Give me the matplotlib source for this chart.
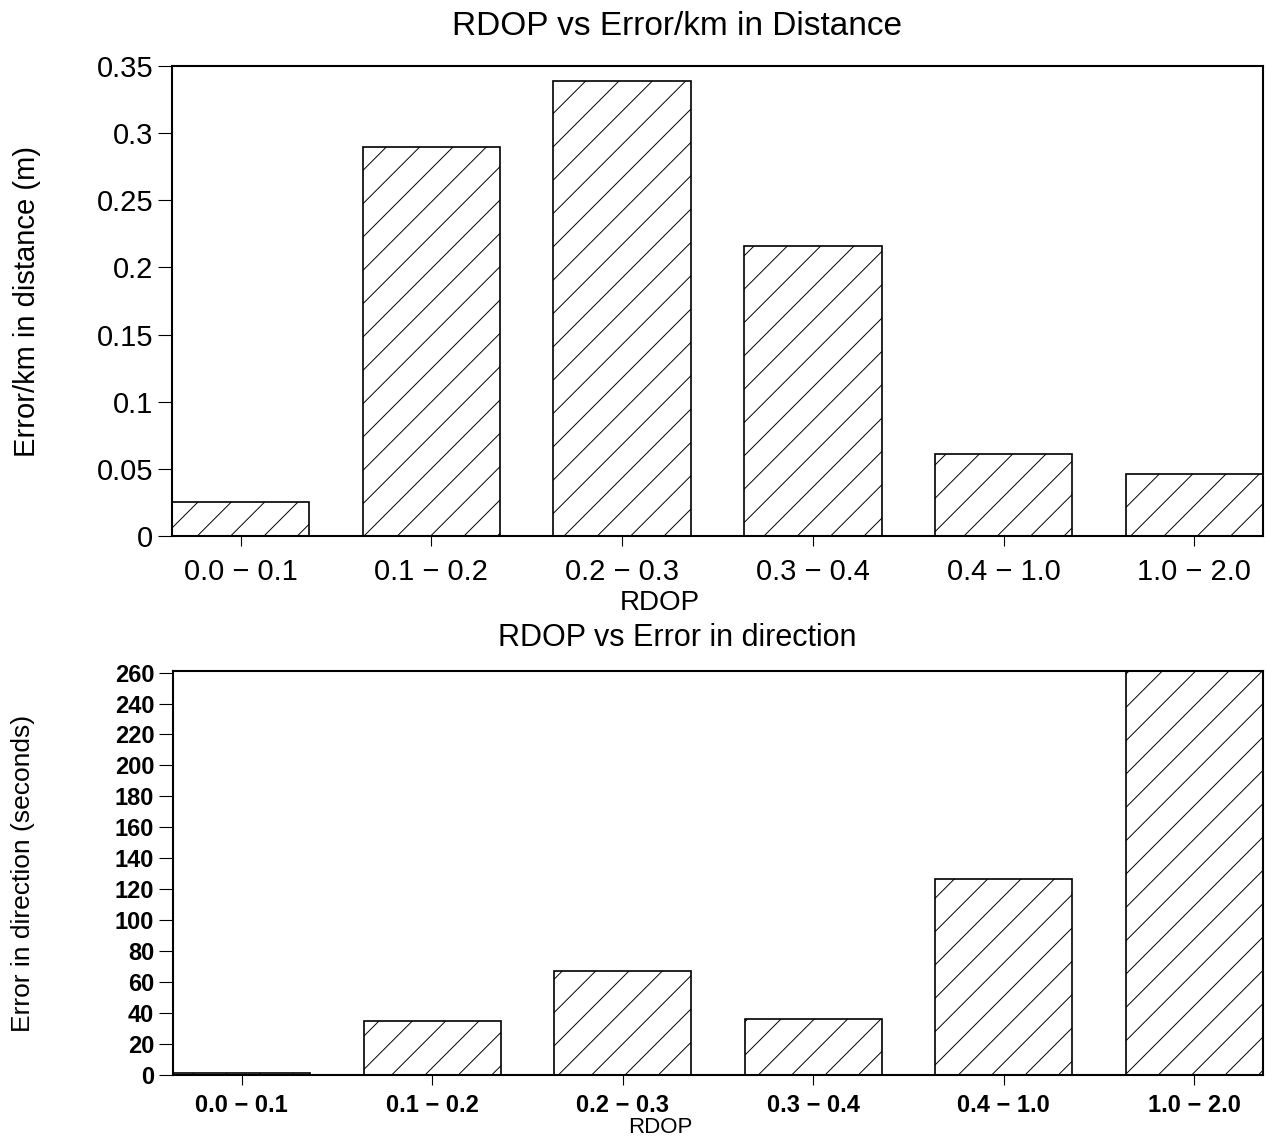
import numpy as np
import matplotlib.pyplot as plt

plt.rcParams['font.family'] = ['Liberation Sans', 'DejaVu Sans']
plt.rcParams['hatch.linewidth'] = 0.7

rangos = ['0.0 \u2212 0.1', '0.1 \u2212 0.2', '0.2 \u2212 0.3', '0.3 \u2212 0.4', '0.4 \u2212 1.0', '1.0 \u2212 2.0']
error_dist = [0.025, 0.290, 0.339, 0.216, 0.061, 0.046]
error_dir = [1.5, 35, 67, 36, 126.5, 261]

x = np.arange(len(rangos))
ancho = 0.72

fig = plt.figure(figsize=(12.66, 11.4), dpi=100)

# grafico de arriba: distancia
ax1 = fig.add_axes([0.1359, 0.5298, 0.8617, 0.4123])
ax1.bar(x, error_dist, width=ancho, color='white', edgecolor='black', hatch='/', linewidth=1.2)
ax1.set_xlim(-0.36, 5.36)
ax1.set_ylim(0, 0.35)
ax1.set_yticks([0, 0.05, 0.1, 0.15, 0.2, 0.25, 0.3, 0.35])
ax1.set_yticklabels(['0', '0.05', '0.1', '0.15', '0.2', '0.25', '0.3', '0.35'])
ax1.set_xticks(x)
ax1.set_xticklabels(rangos)
ax1.tick_params(axis='y', labelsize=21, length=10, direction='out')
ax1.tick_params(axis='x', labelsize=21, length=7, direction='out', pad=9)
ax1.set_title('RDOP vs Error/km in Distance', fontsize=24, pad=22, x=0.463)
ax1.set_xlabel('RDOP', fontsize=20)
ax1.xaxis.set_label_coords(0.447, -0.115)
ax1.set_ylabel('Error/km in distance (m)', fontsize=21)
ax1.yaxis.set_label_coords(-0.12, 0.5)

# grafico de abajo: direccion
ax2 = fig.add_axes([0.1367, 0.057, 0.8609, 0.3544])
ax2.bar(x, error_dir, width=ancho, color='white', edgecolor='black', hatch='/', linewidth=1.2)
ax2.set_xlim(-0.36, 5.36)
ax2.set_ylim(0, 261)
ax2.set_yticks(np.arange(0, 261, 20))
ax2.set_xticks(x)
ax2.set_xticklabels(rangos)
ax2.tick_params(axis='y', labelsize=17, length=10, direction='out')
ax2.tick_params(axis='x', labelsize=17, length=7, direction='out', pad=7)
for t in ax2.get_xticklabels() + ax2.get_yticklabels():
    t.set_fontweight('bold')
ax2.set_title('RDOP vs Error in direction', fontsize=22, pad=18, x=0.463)
ax2.set_xlabel('RDOP', fontsize=16)
ax2.xaxis.set_label_coords(0.447, -0.105)
ax2.set_ylabel('Error in direction (seconds)', fontsize=19)
ax2.yaxis.set_label_coords(-0.127, 0.5)

for ax in (ax1, ax2):
    for s in ax.spines.values():
        s.set_linewidth(1.5)

fig.savefig('out.png', dpi=100)
